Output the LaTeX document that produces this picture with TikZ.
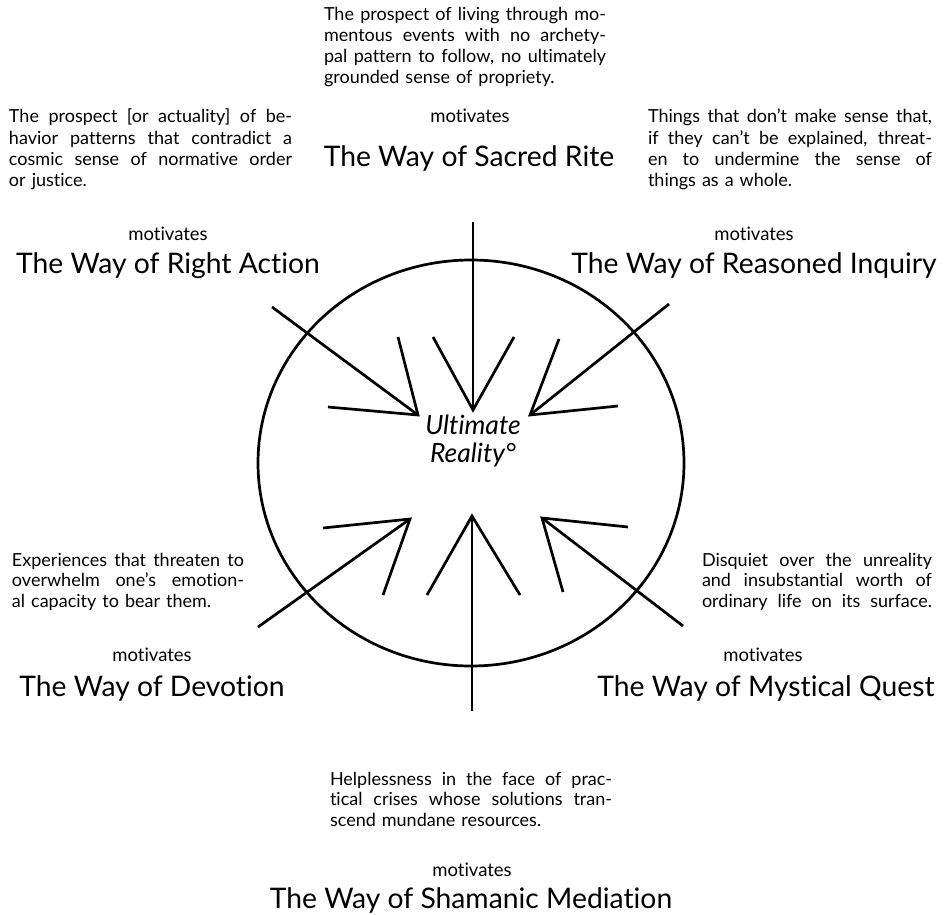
\documentclass[tikz,border=0pt]{standalone}
\usepackage{fontspec}
\setmainfont{Lato}[Ligatures={NoCommon}]
\newcommand\jline[2]{{\spaceskip=0pt\xspaceskip=0pt\makebox[#1][s]{#2}}}
\begin{document}
\begin{tikzpicture}[x=1pt,y=-1pt,
  body/.style={inner sep=0pt, outer sep=0pt, anchor=base west, align=left,
    font=\fontsize{18}{20.8}\selectfont},
  mot/.style={inner sep=0pt, anchor=base, font=\fontsize{18.5}{20}\selectfont},
  way/.style={inner sep=0pt, anchor=base, font=\fontsize{28.3}{32}\selectfont},
  centre/.style={inner sep=0pt, anchor=base, align=center,
    font=\fontsize{26.5}{28}\selectfont\itshape},
  stroke/.style={line width=2.7pt, line join=miter}]
\useasboundingbox (0,0) rectangle (945,915);

% --- texts ---
\node[body, text width=282pt] (topt) at (324,20.7) {%
  \jline{282pt}{The prospect of living through mo-}\\
  \jline{282pt}{mentous events with no archety-}\\
  \jline{282pt}{pal pattern to follow, no ultimately}\\
  grounded sense of propriety.};
\node[mot] (topm) at (470,123) {motivates};
\node[way] (topw) at (469,167) {The Way of Sacred Rite};

\node[body, text width=283pt, font=\fontsize{18}{21.3}\selectfont] (ult) at (9,123) {%
  \jline{283pt}{The prospect [or actuality] of be-}\\
  \jline{283pt}{havior patterns that contradict a}\\
  \jline{283pt}{cosmic sense of normative order}\\
  or justice.};
\node[mot] (ulm) at (168,240) {motivates};
\node[way] (ulw) at (168,273) {The Way of Right Action};

\node[body, text width=284pt, font=\fontsize{18}{21.3}\selectfont] (urt) at (648,123) {%
  \jline{284pt}{Things that don’t make sense that,}\\
  \jline{284pt}{if they can’t be explained, threat-}\\
  \jline{284pt}{en to undermine the sense of}\\
  things as a whole.};
\node[mot] (urm) at (754,240) {motivates};
\node[way] (urw) at (754,273) {The Way of Reasoned Inquiry};

\node[body, text width=232pt] (llt) at (12,566) {%
  \jline{232pt}{Experiences that threaten to}\\
  \jline{232pt}{overwhelm one’s emotion-}\\
  al capacity to bear them.};
\node[mot] (llm) at (152,661) {motivates};
\node[way] (llw) at (152,696) {The Way of Devotion};

\node[body, text width=230pt] (lrt) at (702,566) {%
  \jline{230pt}{Disquiet over the unreality}\\
  \jline{230pt}{and insubstantial worth of}\\
  \jline{230pt}{ordinary life on its surface.}};
\node[mot] (lrm) at (763,661) {motivates};
\node[way] (lrw) at (766,696) {The Way of Mystical Quest};

\node[body, text width=282pt, font=\fontsize{18}{20.5}\selectfont] (bt) at (330,785) {%
  \jline{282pt}{Helplessness in the face of prac-}\\
  \jline{282pt}{tical crises whose solutions tran-}\\
  scend mundane resources.};
\node[mot] (bm) at (472,876) {motivates};
\node[way] (bw) at (471,908) {The Way of Shamanic Mediation};

\node[centre] (ultimate) at (473,462) {Ultimate\\Reality°};

% --- circle ---
\coordinate (C) at (471,463);
\draw[stroke] (C) ellipse [x radius=213pt, y radius=203pt];

% --- arrows ---
\coordinate (tS) at (473,222); \coordinate (tT) at (473,410);
\coordinate (tA) at (433,337); \coordinate (tB) at (514,337);
\coordinate (bS) at (472,711); \coordinate (bT) at (472,516);
\coordinate (bA) at (427,595); \coordinate (bB) at (520,595);
\coordinate (ulS) at (272,307); \coordinate (ulT) at (418,415);
\coordinate (ulA) at (398,337); \coordinate (ulB) at (328,407);
\coordinate (urS) at (669,304); \coordinate (urT) at (530,415);
\coordinate (urA) at (559,339); \coordinate (urB) at (618,406);
\coordinate (llS) at (258,627); \coordinate (llT) at (410,519);
\coordinate (llA) at (323,528); \coordinate (llB) at (383,595);
\coordinate (lrS) at (683,626); \coordinate (lrT) at (542,518);
\coordinate (lrA) at (628,527); \coordinate (lrB) at (563,592);

\foreach \a in {t,b,ul,ur,ll,lr}{
  \draw[stroke] (\a S) -- (\a T);
  \draw[stroke] (\a A) -- (\a T) -- (\a B);
}
\end{tikzpicture}
\end{document}
